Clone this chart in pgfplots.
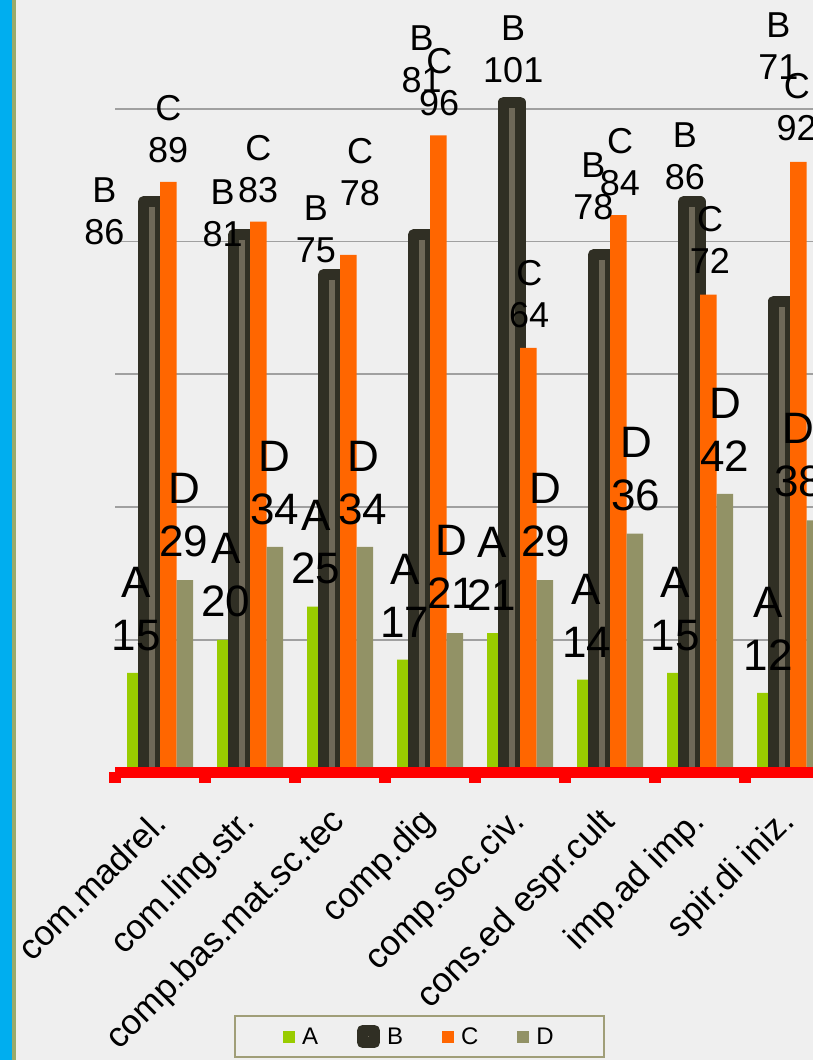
\documentclass[border=0pt]{standalone}
\usepackage{pgfplots}
\pgfplotsset{compat=1.18}
\usepackage{pgfplotstable}
\usepackage{fontspec}
\setmainfont{Liberation Sans}
\definecolor{bgc}{HTML}{EFEFEF}
\definecolor{stripblue}{HTML}{00AEEF}
\definecolor{stripolive}{HTML}{9AAA6A}
\definecolor{colA}{HTML}{99CC00}
\definecolor{colB}{HTML}{302F24}
\definecolor{colBin}{HTML}{6E6858}
\definecolor{colC}{HTML}{FF6600}
\definecolor{colD}{HTML}{929266}
\definecolor{gridc}{HTML}{A0A0A0}
\definecolor{legc}{HTML}{A09E78}

% x = category index, y = value, dx/dy = label offset (pt)
\pgfplotstableread{
x y dx dy
0 15 1 22.25
1 20 0.5 22.25
2 25 0.5 22.25
3 17 -0.25 22.25
4 21 -3.5 22.25
5 14 1.4 22.25
6 15 0 22.25
7 12 3 22.25
}\dataA
\pgfplotstableread{
x y dx dy
0 86 -47.4 -48.6
1 81 -19 -17.2
2 75 -15.75 6
3 81 0 136.1
4 101 1.5 13.5
5 78 -8.4 29.4
6 86 -6.75 6.4
7 71 -3.4 215.8
}\dataB
\pgfplotstableread{
x y dx dy
0 89 0 19.1
1 83 0 18.9
2 78 11.75 48.8
3 96 1 19.3
4 64 1 20
5 84 1.75 19
6 72 1.75 21
7 92 -1.5 20.9
}\dataC
\pgfplotstableread{
x y dx dy
0 29 -0.75 22.6
1 34 0 21.25
2 34 -1.75 21.25
3 21 -3 24.25
4 29 1 22.65
5 36 1.25 22.85
6 42 0.25 21.75
7 38 -16 23.25
}\dataD

\pgfplotsset{
  myleg/.style={legend image code/.code={\path[##1] (0pt,-6pt) rectangle (12pt,6pt);}},
  lab/.style 2 args={
    point meta=y,
    nodes near coords={#1\\\pgfmathprintnumber{\pgfplotspointmeta}},
    visualization depends on={\thisrow{dx}\as\dx},
    visualization depends on={\thisrow{dy}\as\dy},
    every node near coord/.append style={anchor=south, inner sep=0pt, align=center,
      text=black, font=#2, xshift=\dx pt, yshift=\dy pt},
  },
}

\begin{document}
\begin{tikzpicture}[x=1pt,y=1pt]
\path[use as bounding box] (0,0) rectangle (813,1060);
\clip (0,0) rectangle (813,1060);
\fill[bgc] (0,0) rectangle (813,1060);
\fill[stripblue] (0,0) rectangle (12,1060);
\fill[stripolive] (12,0) rectangle (16,1060);
\begin{axis}[
  at={(115pt,287.5pt)}, anchor=south west,
  scale only axis, width=698pt, height=772.5pt,
  xmin=-0.5, xmax=7.2556, ymin=0, ymax=116.4,
  clip=false,
  axis line style={draw=none},
  ybar=0pt, bar width=16.5pt,
  xtick={0,...,7},
  xticklabels={com.madrel.,com.ling.str.,comp.bas.mat.sc.tec,comp.dig,comp.soc.civ.,cons.ed espr.cult,imp.ad imp.,spir.di iniz.},
  xticklabel style={yshift=-44.5pt, rotate=45, anchor=east, inner sep=0pt, font=\fontsize{35}{40}\selectfont},
  ytick={20,40,60,80,100}, yticklabels={},
  ymajorgrids, grid style={gridc, line width=1.8pt},
  major tick length=0pt,
  /pgf/number format/assume math mode=true,
  legend columns=4,
  legend style={at={(rel axis cs:0.1705,-0.3696)}, anchor=south west, draw=legc, line width=2pt,
    fill=bgc, font=\fontsize{24}{28}\selectfont, inner xsep=48pt, inner ysep=9pt,
    /tikz/every odd column/.append style={column sep=5pt},
    /tikz/every even column/.append style={column sep=37pt}},
]
\addplot[fill=colA, draw=none, myleg, lab={A}{\fontsize{44}{53}\selectfont}] table[x=x,y=y] {\dataA};
\addlegendentry{A}
\addplot[fill=colBin, draw=colB, line width=11pt, line join=round, myleg, lab={B}{\fontsize{36}{42}\selectfont}] table[x=x,y=y] {\dataB};
\addlegendentry{B}
\addplot[fill=colC, draw=none, myleg, lab={C}{\fontsize{36}{42}\selectfont}] table[x=x,y=y] {\dataC};
\addlegendentry{C}
\addplot[fill=colD, draw=none, myleg, lab={D}{\fontsize{44}{53}\selectfont}] table[x=x,y=y] {\dataD};
\addlegendentry{D}
\draw[red, line width=11.6pt] (axis cs:-0.5,0) -- (axis cs:7.2556,0);
\draw[red, line width=11.6pt]
  (axis cs:-0.5,0) -- ([yshift=-10.8pt]axis cs:-0.5,0)
  (axis cs:0.5,0) -- ([yshift=-10.8pt]axis cs:0.5,0)
  (axis cs:1.5,0) -- ([yshift=-10.8pt]axis cs:1.5,0)
  (axis cs:2.5,0) -- ([yshift=-10.8pt]axis cs:2.5,0)
  (axis cs:3.5,0) -- ([yshift=-10.8pt]axis cs:3.5,0)
  (axis cs:4.5,0) -- ([yshift=-10.8pt]axis cs:4.5,0)
  (axis cs:5.5,0) -- ([yshift=-10.8pt]axis cs:5.5,0)
  (axis cs:6.5,0) -- ([yshift=-10.8pt]axis cs:6.5,0);
\end{axis}
\end{tikzpicture}
\end{document}
